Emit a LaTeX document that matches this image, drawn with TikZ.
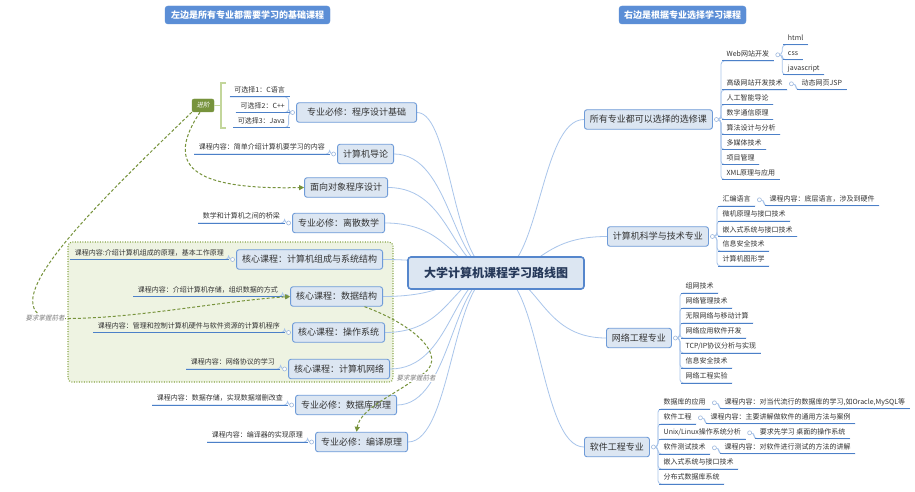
\documentclass[tikz,border=0pt]{standalone}
\usepackage{fontspec}
\setmainfont{Noto Sans CJK SC}[ItalicFont={Noto Sans CJK SC},ItalicFeatures={FakeSlant=0.2}]
\usetikzlibrary{arrows.meta}
\definecolor{headfill}{HTML}{5B8ED6}
\definecolor{mainfill}{HTML}{DCE6F2}
\definecolor{mainline}{HTML}{6E9BD8}
\definecolor{cenline}{HTML}{5586CC}
\definecolor{conncol}{HTML}{A9C5EB}
\definecolor{ulcol}{HTML}{4C80C8}
\definecolor{txtcol}{HTML}{333333}
\definecolor{cirline}{HTML}{9FB9DD}
\definecolor{olive}{HTML}{77933C}
\definecolor{brk}{HTML}{C3D69B}
\definecolor{bndfill}{HTML}{EEF3E2}
\definecolor{bndline}{HTML}{86A444}
\definecolor{labcol}{HTML}{7F7F7F}
\definecolor{centxt}{HTML}{26395A}
\newcommand\fsLeaf{\fontsize{7}{8}\selectfont}
\newcommand\fsMain{\fontsize{9}{10}\selectfont}
\newcommand\fsCen{\fontsize{12}{14}\selectfont}
\newcommand\fsHead{\fontsize{9}{10}\selectfont}
\newcommand\fsLab{\fontsize{6.5}{7}\selectfont}
\pgfdeclarelayer{bnd}
\pgfdeclarelayer{bg}
\pgfsetlayers{bnd,bg,main}
\begin{document}
\begin{tikzpicture}[x=1pt,y=-1pt,
 hdr/.style={fill=headfill, draw=headfill, rounded corners=3pt, text=white, font=\fsHead\bfseries, minimum height=18pt, inner xsep=5pt},
 topic/.style={fill=mainfill, draw=mainline, line width=0.9pt, rounded corners=2.5pt, text=txtcol, font=\fsMain, minimum height=19.5pt, inner xsep=5.5pt, inner ysep=2pt},
 cen/.style={fill=mainfill, draw=cenline, line width=1.6pt, rounded corners=3pt, text=centxt, font=\fsCen\bfseries, minimum width=176pt, minimum height=32pt},
 uline/.style={draw=ulcol, line width=1pt},
 leaf/.style={font=\fsLeaf, text=txtcol, inner xsep=4.5pt, inner ysep=2.5pt, text height=5.6pt, text depth=1.4pt,
   append after command={(\tikzlastnode.south west) edge[uline] (\tikzlastnode.south east)}},
 conn/.style={draw=conncol, line width=0.8pt},
 sub/.style={draw=conncol, line width=0.8pt, rounded corners=3.5pt},
 knob/.style={circle, draw=cirline, fill=white, line width=0.6pt, inner sep=0pt, minimum size=4pt},
 rel/.style={draw=olive, line width=1pt, dash pattern=on 3pt off 2pt, -{Triangle[width=5pt,length=5pt]}},
 rellab/.style={font=\fsLab\itshape, text=labcol, fill=white, inner sep=0.5pt},
 jin/.style={fill=olive, draw=olive, rounded corners=2pt, text=white, font=\fsLab\itshape, minimum width=22pt, minimum height=13pt, inner sep=1pt},
 brkline/.style={draw=brk, line width=1.4pt},
 bndbox/.style={fill=bndfill, draw=bndline, line width=1.1pt, dash pattern=on 1pt off 1.5pt, rounded corners=4pt}
]
\useasboundingbox (0,0) rectangle (915,492);
\begin{pgfonlayer}{bnd}
\fill[white] (0,0) rectangle (915,492);
\draw[bndbox] (68,242) rectangle (393,382);
\end{pgfonlayer}

% headers
\node[hdr, minimum width=165pt] (h1) at (247.5,15) {左边是所有专业都需要学习的基础课程};
\node[hdr, minimum width=127pt] (h2) at (682.5,15) {右边是根据专业选择学习课程};

% central
\node[cen] (c) at (496,273) {大学计算机课程学习路线图};

% left topics
\node[topic, anchor=east, minimum width=120pt] (n1) at (417,112.5) {专业必修：程序设计基础};
\node[topic, anchor=east] (n2) at (394,154) {计算机导论};
\node[topic, anchor=east] (n3) at (388,187.5) {面向对象程序设计};
\node[topic, anchor=east] (n4) at (385,223) {专业必修：离散数学};
\node[topic, anchor=east] (n5) at (383,259.5) {核心课程：计算机组成与系统结构};
\node[topic, anchor=east] (n6) at (383,296.5) {核心课程：数据结构};
\node[topic, anchor=east] (n7) at (385,332.5) {核心课程：操作系统};
\node[topic, anchor=east] (n8) at (390,369) {核心课程：计算机网络};
\node[topic, anchor=east] (n9) at (397,405) {专业必修：数据库原理};
\node[topic, anchor=east] (n10) at (408,442) {专业必修：编译原理};

% right topics
\node[topic, anchor=west] (r1) at (584,119.5) {所有专业都可以选择的选修课};
\node[topic, anchor=west] (r2) at (607,236.5) {计算机科学与技术专业};
\node[topic, anchor=west] (r3) at (606,338) {网络工程专业};
\node[topic, anchor=west] (r4) at (584,447) {软件工程专业};

% knobs on topics
\foreach \n in {n1,n2,n4,n5,n6,n7,n8,n9,n10}
  \node[knob] (k\n) at ([xshift=-3.5pt]\n.west) {};
\foreach \n in {r1,r2,r3,r4}
  \node[knob] (k\n) at ([xshift=3.5pt]\n.east) {};

% left leaves
\node[leaf, anchor=south east] (o1) at (289.5,97) {可选择1：C语言};
\node[leaf, anchor=south east] (o2) at (289.5,112.5) {可选择2：C++};
\node[leaf, anchor=south east] (o3) at (289.5,127.5) {可选择3：Java};
\node[leaf, anchor=south east] (l2) at (329.5,154) {课程内容：简单介绍计算机要学习的内容};
\node[leaf, anchor=south east] (l4) at (284.5,223) {数学和计算机之间的桥梁};
\node[leaf, anchor=south east] (l5) at (228.5,259.5) {课程内容:介绍计算机组成的原理，基本工作原理};
\node[leaf, anchor=south east] (l6) at (282.5,296.5) {课程内容：介绍计算机存储，组织数据的方式};
\node[leaf, anchor=south east] (l7) at (284.5,332.5) {课程内容：管理和控制计算机硬件与软件资源的计算机程序};
\node[leaf, anchor=south east] (l8) at (279.5,369) {课程内容：网络协议的学习};
\node[leaf, anchor=south east] (l9) at (287.5,405) {课程内容：数据存储，实现数据增删改查};
\node[leaf, anchor=south east] (l10) at (307.5,442) {课程内容：编译器的实现原理};

% right leaves: r1
\node[leaf, anchor=south west] (a1) at (722,61) {Web网站开发};
\node[leaf, anchor=south west] (a2) at (722,90) {高级网站开发技术};
\node[leaf, anchor=south west] (a3) at (722,104.5) {人工智能导论};
\node[leaf, anchor=south west] (a4) at (722,119.5) {数字通信原理};
\node[leaf, anchor=south west] (a5) at (722,134.5) {算法设计与分析};
\node[leaf, anchor=south west] (a6) at (722,149.5) {多媒体技术};
\node[leaf, anchor=south west] (a7) at (722,164.5) {项目管理};
\node[leaf, anchor=south west] (a8) at (722,179.5) {XML原理与应用};
% r2
\node[leaf, anchor=south west] (b1) at (718,206) {汇编语言};
\node[leaf, anchor=south west] (b2) at (718,221) {微机原理与接口技术};
\node[leaf, anchor=south west] (b3) at (718,236.5) {嵌入式系统与接口技术};
\node[leaf, anchor=south west] (b4) at (718,251) {信息安全技术};
\node[leaf, anchor=south west] (b5) at (718,266) {计算机图形学};
% r3
\node[leaf, anchor=south west] (c1) at (681,293) {组网技术};
\node[leaf, anchor=south west] (c2) at (681,308) {网络管理技术};
\node[leaf, anchor=south west] (c3) at (681,323) {无限网络与移动计算};
\node[leaf, anchor=south west] (c4) at (681,338) {网络应用软件开发};
\node[leaf, anchor=south west] (c5) at (681,353) {TCP/IP协议分析与实现};
\node[leaf, anchor=south west] (c6) at (681,368) {信息安全技术};
\node[leaf, anchor=south west] (c7) at (681,383) {网络工程实验};
% r4
\node[leaf, anchor=south west] (d1) at (659,409) {数据库的应用};
\node[leaf, anchor=south west] (d2) at (659,424) {软件工程};
\node[leaf, anchor=south west] (d3) at (659,439) {Unix/Linux操作系统分析};
\node[leaf, anchor=south west] (d4) at (659,454) {软件测试技术};
\node[leaf, anchor=south west] (d5) at (659,469) {嵌入式系统与接口技术};
\node[leaf, anchor=south west] (d6) at (659,484) {分布式数据库系统};

% sub knobs and sub children
\foreach \n in {a1,a2,b1,d1,d2,d3,d4}
  \node[knob] (k\n) at ([xshift=4pt]\n.east) {};
\node[leaf, anchor=south west] (w1) at ([xshift=5.5pt,yshift=10pt]ka1.center) {html};
\node[leaf, anchor=south west] (w2) at ([xshift=5.5pt,yshift=-5pt]ka1.center) {css};
\node[leaf, anchor=south west] (w3) at ([xshift=5.5pt,yshift=-20pt]ka1.center) {javascript};
\node[leaf, anchor=south west] (jsp) at ([xshift=5.5pt,yshift=-6pt]ka2.center) {动态网页JSP};
\node[leaf, anchor=south west] (b1c) at ([xshift=5.5pt,yshift=-6pt]kb1.center) {课程内容：底层语言，涉及到硬件};
\node[leaf, anchor=south west] (d1c) at ([xshift=5.5pt,yshift=-6pt]kd1.center) {课程内容：对当代流行的数据库的学习,如Oracle,MySQL等};
\node[leaf, anchor=south west] (d2c) at ([xshift=5.5pt,yshift=-6pt]kd2.center) {课程内容：主要讲解做软件的通用方法与案例};
\node[leaf, anchor=south west] (d3c) at ([xshift=5.5pt,yshift=-6pt]kd3.center) {要求先学习 桌面的操作系统};
\node[leaf, anchor=south west] (d4c) at ([xshift=5.5pt,yshift=-6pt]kd4.center) {课程内容：对软件进行测试的方法的讲解};

% connectors (behind)
\begin{pgfonlayer}{bg}
\coordinate (cl) at (452,273);
\coordinate (cr) at (540,273);
\foreach \n in {n1,n2,n3,n4,n5,n6,n7,n8,n9,n10}
  \draw[conn] (c.center) .. controls (cl) and (cl |- \n.east) .. (\n.east);
\foreach \n in {r1,r2,r3,r4}
  \draw[conn] (c.center) .. controls (cr) and (cr |- \n.west) .. (\n.west);
\foreach \a/\b in {kn1/o1,kn1/o2,kn1/o3,kn2/l2,kn4/l4,kn5/l5,kn6/l6,kn7/l7,kn8/l8,kn9/l9,kn10/l10}
  \draw[sub] (\a.center) -- ++(-4,0) |- (\b.south west);
\foreach \a/\b in {kr1/a1,kr1/a2,kr1/a3,kr1/a4,kr1/a5,kr1/a6,kr1/a7,kr1/a8,
                   kr2/b1,kr2/b2,kr2/b3,kr2/b4,kr2/b5,
                   kr3/c1,kr3/c2,kr3/c3,kr3/c4,kr3/c5,kr3/c6,kr3/c7,
                   kr4/d1,kr4/d2,kr4/d3,kr4/d4,kr4/d5,kr4/d6,
                   ka1/w1,ka1/w2,ka1/w3,ka2/jsp,kb1/b1c,kd1/d1c,kd2/d2c,kd3/d3c,kd4/d4c}
  \draw[sub] (\a.center) -- ++(4.5,0) |- (\b.south east);
\end{pgfonlayer}

% summary bracket and 进阶
\node[jin] (jj) at (203,105.5) {进阶};
\coordinate (bt) at (221,83);
\coordinate (bb) at (221,128);
\draw[brkline] ([xshift=5pt]bt) -- (bt) -- (bb) -- ([xshift=5pt]bb);
\draw[brkline] (jj.east) -- (jj.east -| bt);

% relationships
\coordinate (m1) at (45,318);
\coordinate (m2) at (416,378);
\draw[rel] ([xshift=-3pt]jj.south) .. controls (165,165) and (190,190) .. (n3.west);
\draw[rel] (jj.south west) .. controls (85,215) and (0,300) .. (m1) .. controls (120,322) and (210,302) .. (n6.west);
\draw[rel] ([xshift=28pt]n6.south) .. controls (415,325) and (455,360) .. (m2) .. controls (400,392) and (360,408) .. ([xshift=-5pt]n10.north);
\node[rellab] (lab1) at (m1) {要求掌握前者};
\node[rellab] (lab2) at (m2) {要求掌握前者};
\end{tikzpicture}
\end{document}
